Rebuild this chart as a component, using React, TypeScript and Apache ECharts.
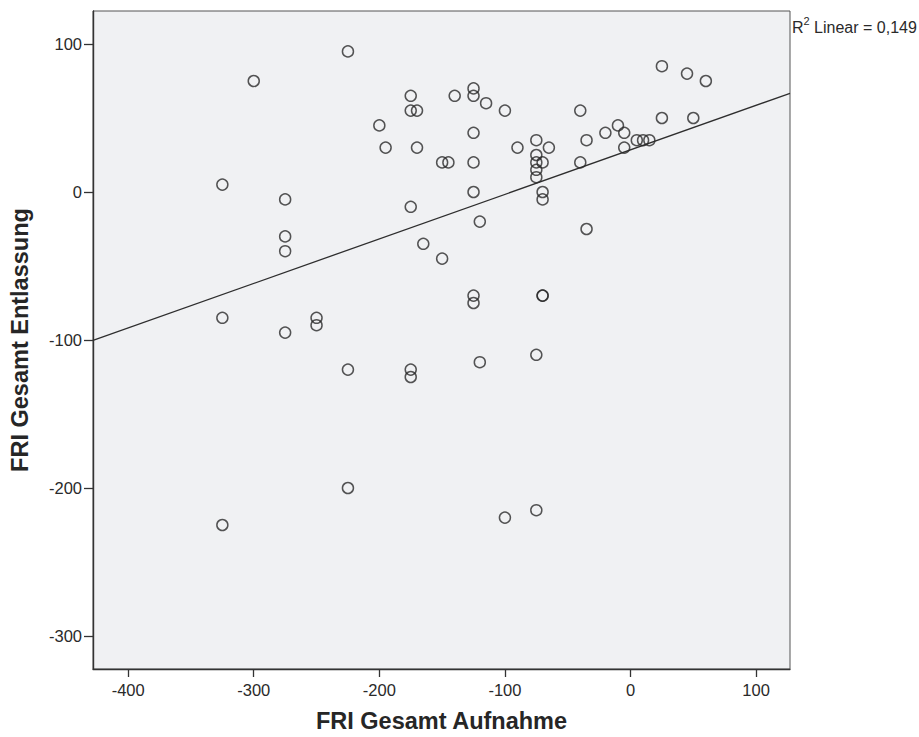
import React, { useEffect, useRef } from "react";
import * as echarts from "echarts";

// FRI total score at admission (x) and at discharge (y), one pair per patient
const friAufnahme: number[] = [
  -225, -300, -325, -275, -275, -275, -325, -275, -250, -250,
  -225, -175, -175, -225, -325, -100, -75, -120, -75, -70,
  -70, -125, -125, -150, -165, -120, -175, -125, -70, -70,
  -40, -35, -175, -140, -125, -125, -115, -175, -170, -200,
  -195, -170, -125, -150, -145, -125, -100, -90, -75, -65,
  -75, -75, -70, -75, -75, -40, -35, -20, -10, -5,
  -5, 5, 10, 15, 25, 25, 45, 60, 50,
];
const friEntlassung: number[] = [
  95, 75, 5, -5, -30, -40, -85, -95, -85, -90,
  -120, -120, -125, -200, -225, -220, -215, -115, -110, -70,
  -70, -70, -75, -45, -35, -20, -10, 0, 0, -5,
  20, -25, 65, 65, 70, 65, 60, 55, 55, 45,
  30, 30, 40, 20, 20, 20, 55, 30, 35, 30,
  25, 20, 20, 15, 10, 55, 35, 40, 45, 40,
  30, 35, 35, 35, 85, 50, 80, 75, 50,
];

const tickValues: number[] = [-400, -300, -200, -100, 0, 100];
const yTickValues: number[] = [-300, -200, -100, 0, 100];
const xRange: [number, number] = [-428, 127];
const yRange: [number, number] = [-322.3, 122.3];
const rSquaredText = "0,149";

// ordinary least squares fit of discharge on admission
function linearFit(xs: number[], ys: number[]) {
  const n = xs.length;
  const mx = xs.reduce((a, b) => a + b, 0) / n;
  const my = ys.reduce((a, b) => a + b, 0) / n;
  let sxy = 0;
  let sxx = 0;
  for (let i = 0; i < n; i++) {
    sxy += (xs[i] - mx) * (ys[i] - my);
    sxx += (xs[i] - mx) * (xs[i] - mx);
  }
  const slope = sxy / sxx;
  return { slope, intercept: my - slope * mx };
}

export default function App() {
  const ref = useRef<HTMLDivElement>(null);

  useEffect(() => {
    if (!ref.current) return;
    const chart = echarts.init(ref.current, undefined, { renderer: "svg" });
    const points = friAufnahme.map((x, i) => [x, friEntlassung[i]]);
    const fit = linearFit(friAufnahme, friEntlassung);
    const fitLine = xRange.map((x) => [x, fit.intercept + fit.slope * x]);
    const font = "'Liberation Sans', Arial, sans-serif";

    chart.setOption({
      animation: false,
      backgroundColor: "#ffffff",
      textStyle: { fontFamily: font },
      grid: {
        left: 93,
        right: 129,
        top: 11,
        bottom: 68,
        show: true,
        backgroundColor: "#f0f1f3",
        borderColor: "#555555",
        borderWidth: 1,
        outerBoundsMode: "none",
      },
      xAxis: {
        type: "value",
        min: xRange[0],
        max: xRange[1],
        name: "FRI Gesamt Aufnahme",
        nameLocation: "middle",
        nameGap: 40,
        nameTextStyle: {
          fontFamily: font,
          fontSize: 23.5,
          fontWeight: "bold",
          color: "#262626",
        },
        axisLine: { show: true, onZero: false, lineStyle: { color: "#333333", width: 1.4 } },
        axisTick: { show: true, length: 8, customValues: tickValues, lineStyle: { color: "#333333", width: 1.3 } },
        axisLabel: { customValues: tickValues, margin: 12, fontSize: 16.5, color: "#2a2a2a", fontFamily: font },
        splitLine: { show: false },
      },
      yAxis: {
        type: "value",
        min: yRange[0],
        max: yRange[1],
        name: "FRI Gesamt Entlassung",
        nameLocation: "middle",
        nameGap: 61,
        nameTextStyle: {
          fontFamily: font,
          fontSize: 23.5,
          fontWeight: "bold",
          color: "#262626",
        },
        axisLine: { show: true, onZero: false, lineStyle: { color: "#333333", width: 1.4 } },
        axisTick: { show: true, length: 9, customValues: yTickValues, lineStyle: { color: "#333333", width: 1.3 } },
        axisLabel: { customValues: yTickValues, margin: 11, fontSize: 16.5, color: "#2a2a2a", fontFamily: font },
        splitLine: { show: false },
      },
      graphic: [
        {
          type: "text",
          left: 792,
          top: 15,
          style: {
            text: "{r|R}{sup|2}{r| Linear = " + rSquaredText + "}",
            rich: {
              r: { fontSize: 16, fontFamily: font, fill: "#2a2a2a", lineHeight: 20, verticalAlign: "bottom" },
              sup: { fontSize: 11, fontFamily: font, fill: "#2a2a2a", lineHeight: 20, verticalAlign: "top", padding: [0, 0, 4, 0] },
            },
          },
        },
      ],
      series: [
        {
          type: "line",
          data: fitLine,
          showSymbol: false,
          symbol: "none",
          lineStyle: { color: "#2e2e2e", width: 1.3 },
          silent: true,
          z: 2,
        },
        {
          type: "scatter",
          data: points,
          symbol: "circle",
          symbolSize: 11,
          itemStyle: { color: "rgba(0,0,0,0)", borderColor: "#2b2b2b", borderWidth: 1.5 },
          z: 3,
        },
      ],
    });

    return () => chart.dispose();
  }, []);

  return (
    <div
      ref={ref}
      style={{ position: "fixed", left: 0, top: 0, width: 919, height: 737 }}
    />
  );
}
